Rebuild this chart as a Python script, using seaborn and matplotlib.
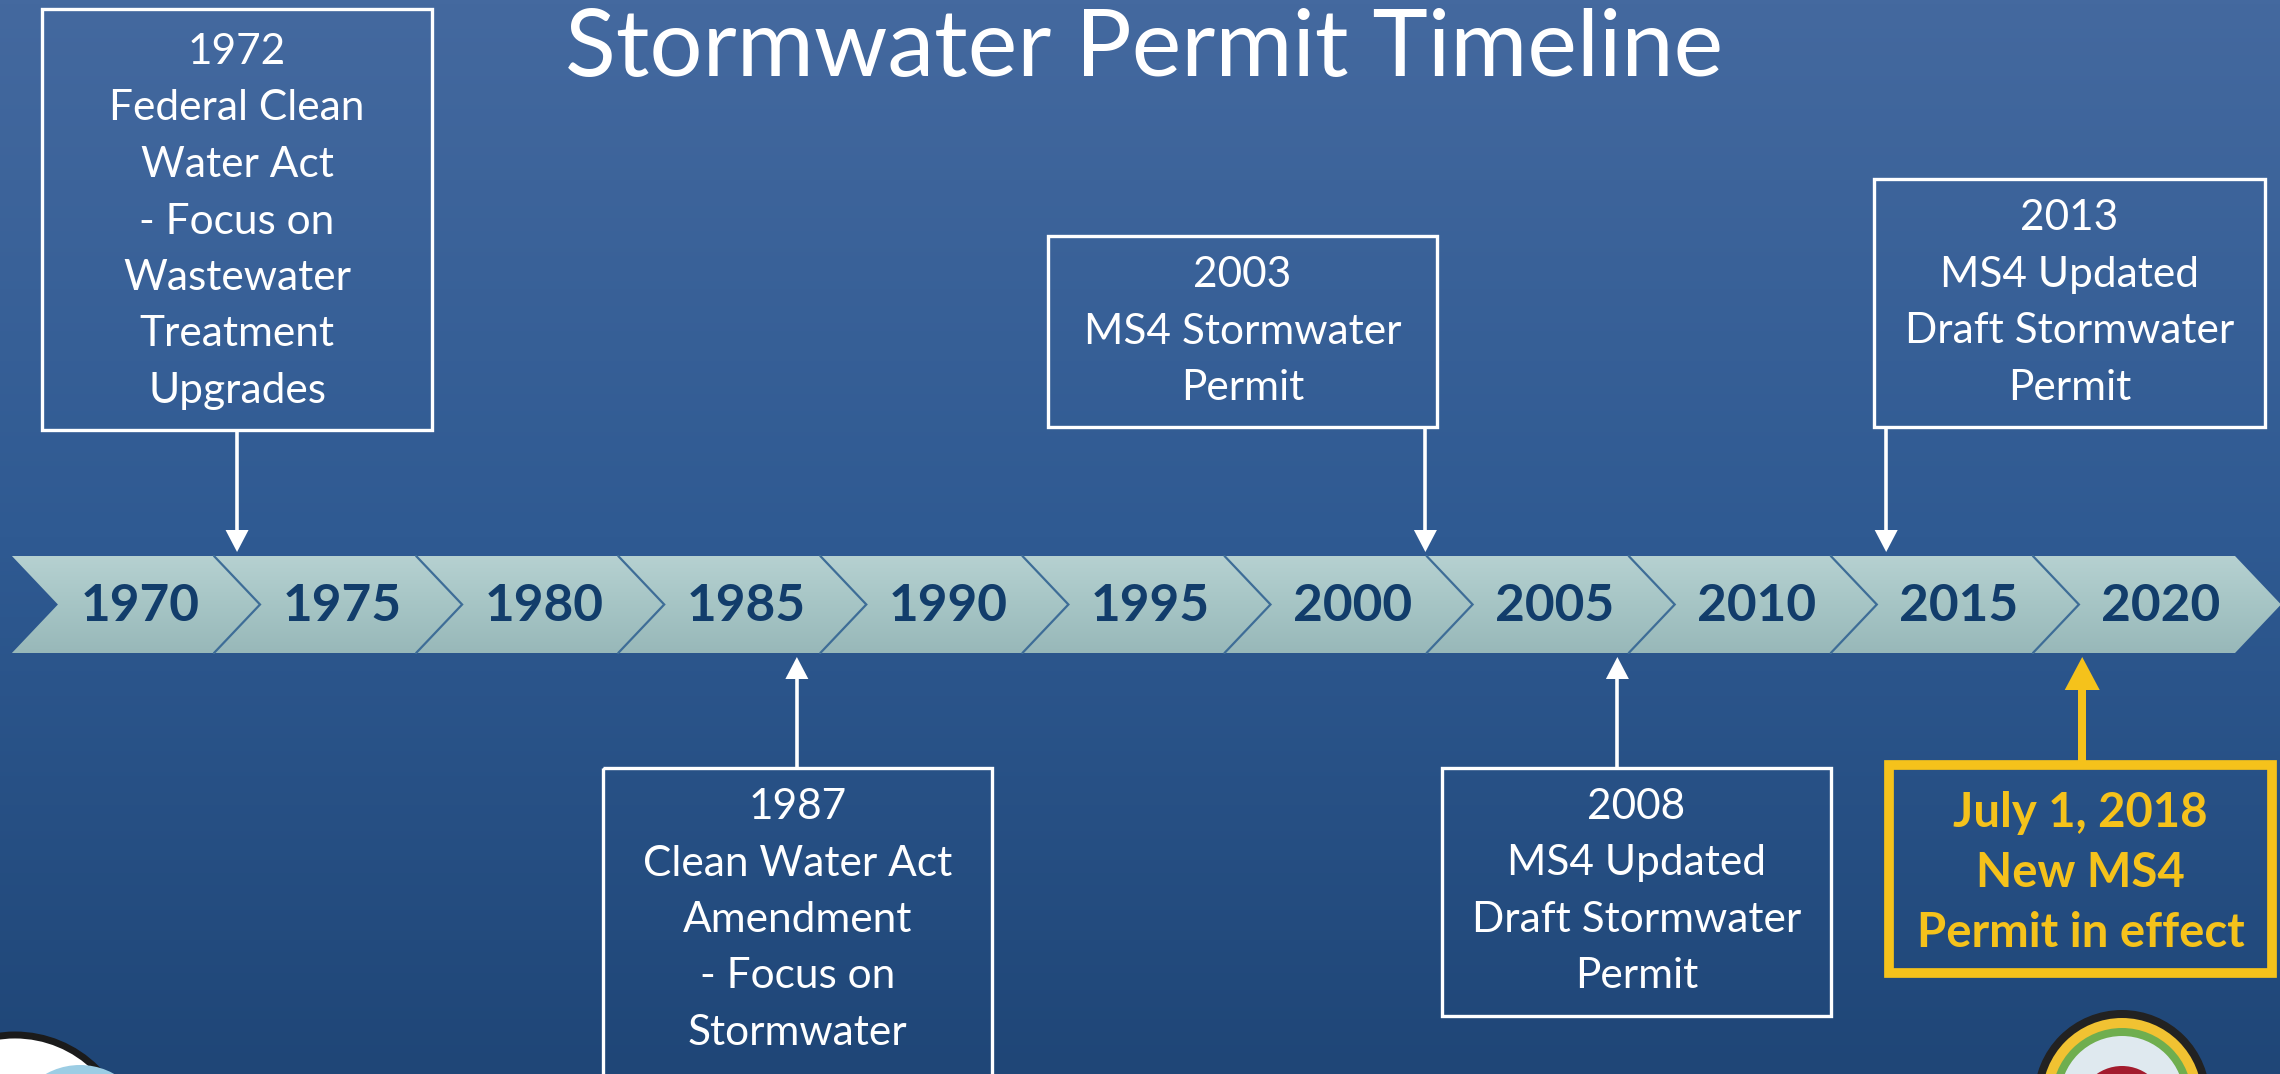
import numpy as np
import matplotlib
matplotlib.use("Agg")
import matplotlib.pyplot as plt
import seaborn as sns
from matplotlib.patches import Polygon, Rectangle, Ellipse
from matplotlib.colors import LinearSegmentedColormap

sns.set_theme(style="white")
plt.rcParams['font.family'] = ['Lato', 'DejaVu Sans']

# timeline data
years = [1970, 1975, 1980, 1985, 1990, 1995, 2000, 2005, 2010, 2015, 2020]
event_titles = ['1972', '1987', '2003', '2008', '2013', 'July 1, 2018']
event_lines = [
    ['Federal Clean', 'Water Act', '- Focus on', 'Wastewater', 'Treatment', 'Upgrades'],
    ['Clean Water Act', 'Amendment', '- Focus on', 'Stormwater'],
    ['MS4 Stormwater', 'Permit'],
    ['MS4 Updated', 'Draft Stormwater', 'Permit'],
    ['MS4 Updated', 'Draft Stormwater', 'Permit'],
    ['New MS4', 'Permit in effect'],
]
# where each arrow meets the band (in years)
event_marks = [1972.5, 1986.35, 2001.9, 2006.65, 2013.3, 2018.15]
event_side = ['top', 'bottom', 'top', 'bottom', 'top', 'bottom']
highlight = [False, False, False, False, False, True]

# layout in pixels: left, right, top, bottom, first text line
box_layout = [
    (42, 432, 9, 430, 52),
    (603, 992, 768, 1110, 807),
    (1048, 1437, 236, 427, 275),
    (1442, 1831, 768, 1016, 807),
    (1874, 2265, 179, 427, 218),
    (1889, 2272, 765, 973, 813),
]

W, H = 2280, 1074
PX = 40.42                      # pixels per year
X0 = 1970 - 136 / PX
X1 = X0 + W / PX


def px(x):
    return X0 + x / PX


band_top, band_bot = 556, 653
band_mid = (band_top + band_bot) / 2
depth = 46 / PX

fig = plt.figure(figsize=(22.8, 10.74), dpi=100)
ax = fig.add_axes([0, 0, 1, 1])
ax.set_xlim(X0, X1)
ax.set_ylim(H, 0)
ax.axis('off')

# background gradient
bg = LinearSegmentedColormap.from_list('bg', ['#44699f', '#2f5a92', '#1f4677'])
grad = np.linspace(0, 1, 256).reshape(-1, 1)
ax.imshow(grad, extent=[X0, X1, H, 0], aspect='auto', cmap=bg, zorder=0)

# chevrons
chev = LinearSegmentedColormap.from_list('chev', ['#b6d1d1', '#a6c5c5', '#98b8b9'])
for y in years:
    L = y - 3.07
    R = L + 5
    pts = [(L, band_top), (R, band_top), (R + depth, band_mid),
           (R, band_bot), (L, band_bot), (L + depth, band_mid)]
    poly = Polygon(pts, closed=True, facecolor='none', edgecolor='none')
    ax.add_patch(poly)
    im = ax.imshow(grad, extent=[L, R + depth, band_bot, band_top], aspect='auto',
                   cmap=chev, zorder=2)
    im.set_clip_path(poly)
    if y != years[-1]:
        ax.plot([R, R + depth, R], [band_top, band_mid, band_bot], color='#3e6d97',
                lw=1.6, zorder=3, solid_joinstyle='miter')
    ax.text(y + 0.1, band_mid + 2, str(y), ha='center', va='center', fontsize=37,
            fontweight='bold', color='#123d6b', zorder=4)

# event boxes and arrows
for title, lines, mark, side, hl, lay in zip(event_titles, event_lines, event_marks,
                                             event_side, highlight, box_layout):
    l, r, t, b, y0 = lay
    col = '#f5c21b' if hl else 'white'
    lw = 7 if hl else 2.4
    ax.add_patch(Rectangle((px(l), t), px(r) - px(l), b - t, fill=False,
                           edgecolor=col, lw=lw, zorder=5))
    step = 60 if hl else 56.5
    cx = (px(l) + px(r)) / 2
    for i, s in enumerate([title] + lines):
        ax.text(cx, y0 + i * step, s, ha='center', va='center',
                fontsize=34 if hl else 30.5, color=col,
                fontweight='bold' if hl else 'normal', zorder=6)
    # arrow
    hw = (35 if hl else 23) / PX / 2
    hlen = 33 if hl else 22
    shaft = 8 * 0.72 if hl else 3.6 * 0.72
    if side == 'top':
        tip = band_top - 4
        start = b
        base = tip - hlen
    else:
        tip = band_bot + 4
        start = t
        base = tip + hlen
    ax.plot([mark, mark], [start, base], color=col, lw=shaft, zorder=5,
            solid_capstyle='butt')
    ax.fill([mark - hw, mark + hw, mark], [base, base, tip], color=col, lw=0, zorder=5)

# title
fig.text(1144 / W, 1 - 76 / H, 'Stormwater Permit Timeline', ha='center', va='baseline',
         fontsize=67.5, fontweight='normal', color='white')

# corner logos (partly off the slide)
ax.add_patch(Ellipse((px(15), 1150), 2 * 115 / PX, 230, facecolor='#ffffff',
                     edgecolor='#1b1b1b', lw=5, zorder=7))
ax.add_patch(Ellipse((px(80), 1135), 2 * 70 / PX, 140, facecolor='#9ccde4',
                     edgecolor='none', zorder=8))
for r, c in [(88, '#222222'), (80, '#f1c232'), (70, '#6fae4f'), (62, '#dfe9ef')]:
    ax.add_patch(Ellipse((px(2122), 1098), 2 * r / PX, 2 * r, facecolor=c,
                         edgecolor='none', zorder=7))
ax.add_patch(Ellipse((px(2122), 1110), 2 * 44 / PX, 88, facecolor='#a31c2e',
                     edgecolor='none', zorder=8))

fig.savefig('out.png', dpi=100)
